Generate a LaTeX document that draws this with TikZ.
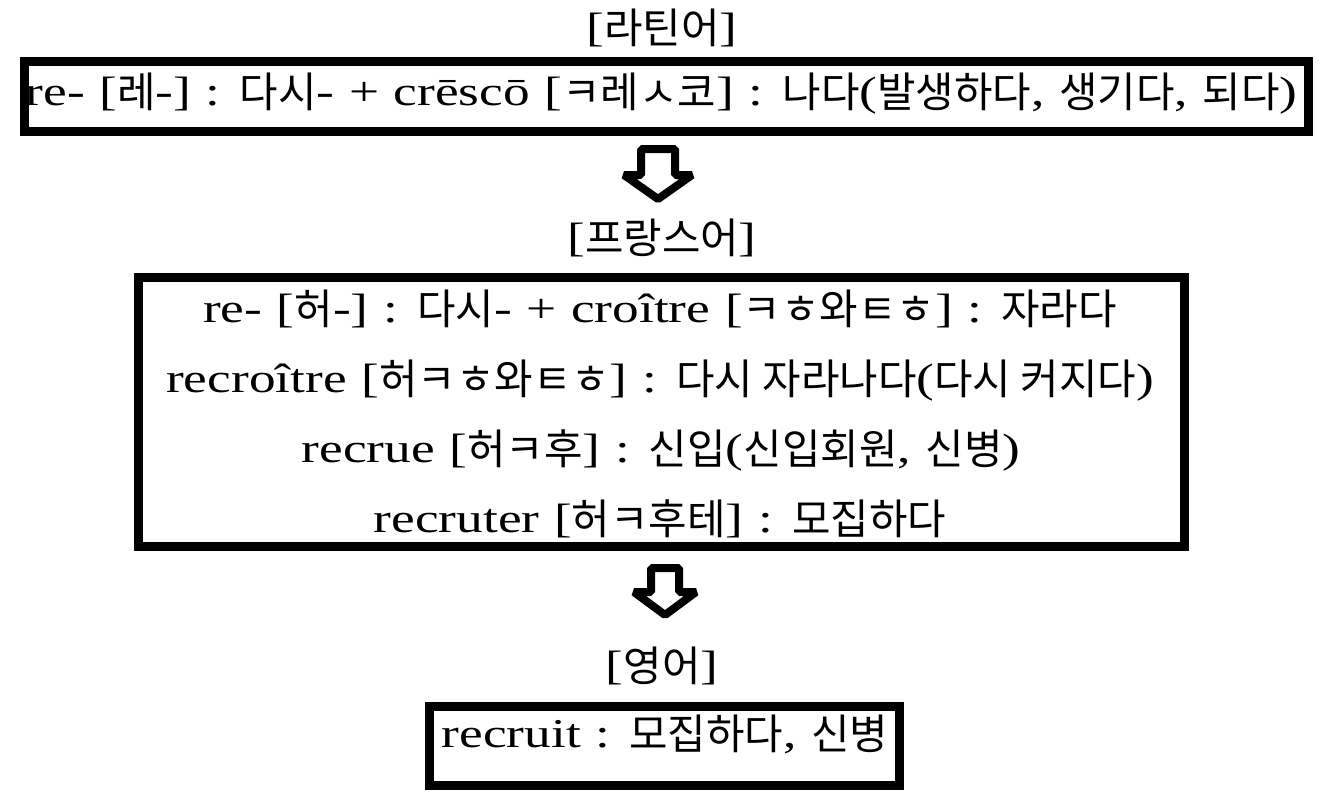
\documentclass[tikz,border=0pt]{standalone}
\usepackage{fontspec}
\setmainfont{Liberation Serif}[FakeStretch=1.3, WordSpace=1.1]
\newfontfamily\krfont{Noto Sans CJK KR}[Scale=1.02]
\newcommand\K[1]{\raisebox{-2.5pt}{\krfont #1}}
\begin{document}
\begin{tikzpicture}[x=1pt,y=-1pt,
  txt/.style={font=\fontsize{41}{45}\selectfont, inner sep=0pt, anchor=base},
  wordbox/.style={draw=black, line width=9pt, fill=none, inner sep=0pt},
  blockarrow/.style={draw=black, line width=8pt, line join=bevel, fill=white}]
\useasboundingbox[fill=white] (0,0) rectangle (1324,803);

% boxes
\node[wordbox, minimum width=1284pt, minimum height=70pt] (box1) at (666.5,96.5) {};
\node[wordbox, minimum width=1045.5pt, minimum height=269pt] (box2) at (661.25,412) {};
\node[wordbox, minimum width=470pt, minimum height=79pt] (box3) at (664,745.5) {};

% labels
\node[txt] (lat) at (662,41) {[\K{라틴어}]};
\node[txt] (fr) at (662,251) {[\K{프랑스어}]};
\node[txt] (en) at (662,679) {[\K{영어}]};

% texts
\node[txt] (t1) at (661.5,105) {re- [\K{레}-] : \K{다시}- + crēscō [\K{ㅋ레ㅅ코}] : \K{나다}(\K{발생하다}, \K{생기다}, \K{되다})};
\node[txt] (f1) at (660,322) {re- [\K{허}-] : \K{다시}- + croître [\K{ㅋㅎ와ㅌㅎ}] : \K{자라다}};
\node[txt] (f2) at (660,392) {recroître [\K{허ㅋㅎ와ㅌㅎ}] : \K{다시 자라나다}(\K{다시 커지다})};
\node[txt] (f3) at (661,462) {recrue [\K{허ㅋ후}] : \K{신입}(\K{신입회원}, \K{신병})};
\node[txt] (f4) at (660,532) {recruter [\K{허ㅋ후테}] : \K{모집하다}};
\node[txt] (e1) at (665,747) {recruit : \K{모집하다}, \K{신병}};

% block arrows
\coordinate (a1) at (657.5,149);
\draw[blockarrow] (a1) ++(-16.5,0) -- ++(0,26) -- ++(-17,0) -- ++(34,24) -- ++(34,-24) -- ++(-17,0) -- ++(0,-26) -- cycle;
\coordinate (a2) at (665,568);
\draw[blockarrow] (a2) ++(-14,0) -- ++(0,24) -- ++(-17,0) -- ++(31,23) -- ++(31,-23) -- ++(-17,0) -- ++(0,-24) -- cycle;
\end{tikzpicture}
\end{document}
